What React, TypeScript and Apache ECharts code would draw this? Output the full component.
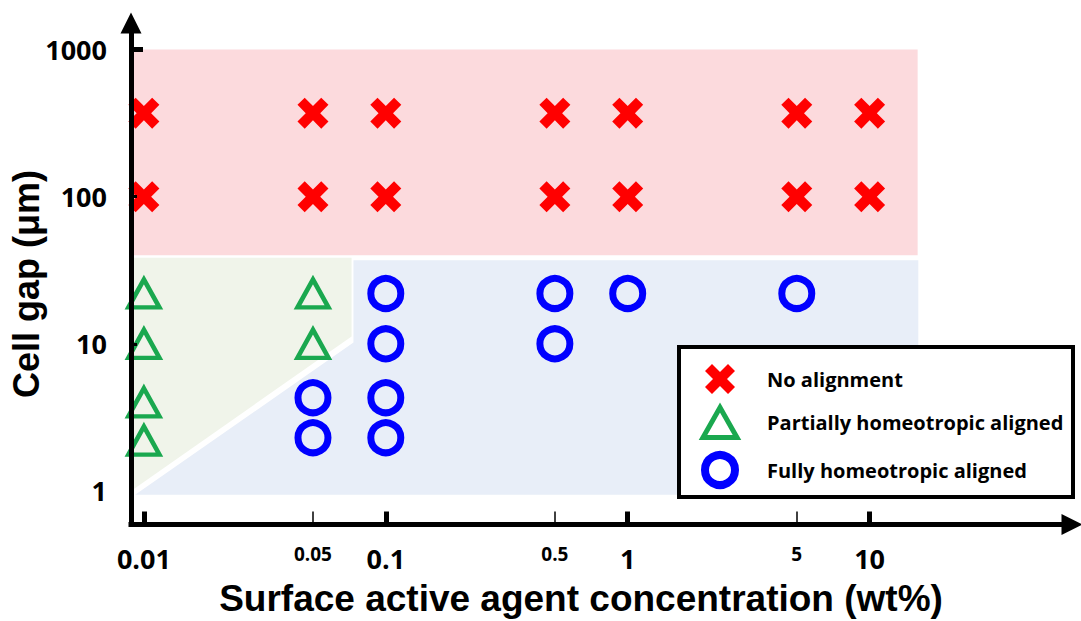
import { useEffect, useRef } from 'react';
import * as echarts from 'echarts';

// ---- Data ----
const X_MAJOR_TICKS = [0.01, 0.1, 1, 10];
const X_MINOR_TICKS = [0.05, 0.5, 5];
const Y_LABELS = [1, 10, 100, 1000];
const Y_MAJOR_TICKS = [1000];
const Y_MINOR_TICKS = [100, 10];

const noAlignment: [number, number][] = [
  [0.01, 370], [0.05, 370], [0.1, 370], [0.5, 370], [1, 370], [5, 370], [10, 370],
  [0.01, 100], [0.05, 100], [0.1, 100], [0.5, 100], [1, 100], [5, 100], [10, 100],
];
const partiallyAligned: [number, number][] = [
  [0.01, 22], [0.01, 10], [0.01, 4], [0.01, 2.2],
  [0.05, 22], [0.05, 10],
];
const fullyAligned: [number, number][] = [
  [0.05, 4.3], [0.05, 2.3],
  [0.1, 22], [0.1, 10], [0.1, 4.3], [0.1, 2.3],
  [0.5, 22], [0.5, 10],
  [1, 22],
  [5, 22],
];

// Shaded regions (data coordinates: concentration, cell gap)
const noAlignRegion: [number, number][] = [[0.009, 40], [15.8, 40], [15.8, 1000], [0.009, 1000]];
const partialRegion: [number, number][] = [[0.009, 38.5], [0.0722, 38.5], [0.0722, 11.2], [0.009, 1.02]];
const fullRegion: [number, number][] = [[0.0735, 37], [15.9, 37], [15.9, 0.94], [0.0092, 0.94], [0.0735, 10.2]];
const regions = [noAlignRegion, partialRegion, fullRegion];

const seriesNames = ['No alignment', 'Partially homeotropic aligned', 'Fully homeotropic aligned'];

// ---- Styles ----
const RED = '#ff0000';
const GREEN = '#1aa84f';
const BLUE = '#0000ff';
const regionColors = ['#fcdadd', '#f0f4ea', '#e8eef8'];
const X_MIN = 0.008845;
const X_MAX = 68.66;
const Y_MIN = 0.5909;
const Y_MAX = 1517;
const X_PATH = 'path://M0,7 L7,0 L15,8 L23,0 L30,7 L22,15 L30,23 L23,30 L15,22 L7,30 L0,23 L8,15 Z';
const TRI_PATH = 'path://M17,0 L34,30 L0,30 Z';
const LABEL_FONT = 'Open Sans';
const TITLE_FONT = 'Liberation Sans';

const fmt = (v: number) => String(Number(Number(v).toPrecision(3)));

export default function App() {
  const ref = useRef<HTMLDivElement>(null);

  useEffect(() => {
    if (!ref.current) return;
    const chart = echarts.init(ref.current, undefined, { renderer: 'svg' });

    const axisLineStyle = { color: '#000', width: 5, cap: 'square' };

    const option: any = {
      animation: false,
      backgroundColor: '#fff',
      grid: { left: 131, top: 23, width: 941, height: 501.5, containLabel: false },
      xAxis: [
        {
          type: 'log', min: X_MIN, max: X_MAX, position: 'bottom', z: 4,
          axisLine: { show: true, onZero: false, symbol: ['none', 'triangle'], symbolSize: [21, 21], lineStyle: axisLineStyle },
          axisTick: { show: true, inside: true, length: 13, customValues: X_MAJOR_TICKS, lineStyle: { color: '#000', width: 5 } },
          axisLabel: {
            show: true, customValues: X_MAJOR_TICKS, margin: 20, formatter: fmt,
            fontFamily: LABEL_FONT, fontWeight: 'bold', fontSize: 27, color: '#000',
          },
          splitLine: { show: false }, minorTick: { show: false }, minorSplitLine: { show: false },
        },
        {
          type: 'log', min: X_MIN, max: X_MAX, position: 'bottom', z: 4,
          axisLine: { show: false, onZero: false },
          axisTick: { show: true, inside: true, length: 13, customValues: X_MINOR_TICKS, lineStyle: { color: '#000', width: 1.5 } },
          axisLabel: {
            show: true, customValues: X_MINOR_TICKS, margin: 20, formatter: fmt,
            fontFamily: LABEL_FONT, fontWeight: 'bold', fontSize: 19, color: '#000',
          },
          splitLine: { show: false }, minorTick: { show: false }, minorSplitLine: { show: false },
        },
      ],
      yAxis: [
        {
          type: 'log', min: Y_MIN, max: Y_MAX, position: 'left', z: 4,
          axisLine: { show: true, onZero: false, symbol: ['none', 'triangle'], symbolSize: [21, 21], lineStyle: axisLineStyle },
          axisTick: { show: true, inside: true, length: 12, customValues: Y_MAJOR_TICKS, lineStyle: { color: '#000', width: 5 } },
          axisLabel: {
            show: true, customValues: Y_LABELS, margin: 24, formatter: fmt,
            fontFamily: LABEL_FONT, fontWeight: 'bold', fontSize: 27, color: '#000',
          },
          splitLine: { show: false }, minorTick: { show: false }, minorSplitLine: { show: false },
        },
        {
          type: 'log', min: Y_MIN, max: Y_MAX, position: 'left', z: 4,
          axisLine: { show: false, onZero: false },
          axisTick: { show: true, inside: true, length: 6, customValues: Y_MINOR_TICKS, lineStyle: { color: '#000', width: 3 } },
          axisLabel: { show: false },
          splitLine: { show: false }, minorTick: { show: false }, minorSplitLine: { show: false },
        },
      ],
      legend: {
        left: 700.5, top: 364, orient: 'vertical', itemWidth: 84, itemHeight: 30, itemGap: 11,
        padding: 0, selectedMode: false, z: 10,
        textStyle: { fontFamily: LABEL_FONT, fontWeight: 'bold', fontSize: 20, color: '#000' },
        data: [
          { name: seriesNames[0], icon: X_PATH, itemStyle: { color: RED, borderWidth: 0, opacity: 1 } },
          { name: seriesNames[1], icon: TRI_PATH, itemStyle: { color: 'rgba(0,0,0,0)', borderColor: GREEN, borderWidth: 5, opacity: 1 } },
          { name: seriesNames[2], icon: 'circle', itemStyle: { color: 'rgba(0,0,0,0)', borderColor: BLUE, borderWidth: 8, opacity: 1 } },
        ],
      },
      graphic: [
        {
          type: 'rect', z: 5,
          shape: { x: 679, y: 347, width: 394, height: 150 },
          style: { fill: '#fff', stroke: '#000', lineWidth: 4 },
        },
        {
          type: 'text', x: 581, y: 598, z: 5,
          style: {
            text: 'Surface active agent concentration (wt%)', textAlign: 'center', textVerticalAlign: 'middle',
            fontFamily: TITLE_FONT, fontWeight: 'bold', fontSize: 37, fill: '#000',
          },
        },
        {
          type: 'text', x: 26, y: 284, rotation: Math.PI / 2, z: 5,
          style: {
            text: 'Cell gap (μm)', textAlign: 'center', textVerticalAlign: 'middle',
            fontFamily: TITLE_FONT, fontWeight: 'bold', fontSize: 36, fill: '#000',
          },
        },
      ],
      series: [
        {
          type: 'custom', name: 'regions', coordinateSystem: 'cartesian2d', xAxisIndex: 0, yAxisIndex: 0,
          silent: true, clip: false, z: 1,
          data: regions.map((r) => [r[0][0], r[0][1]]),
          encode: { x: 0, y: 1 },
          renderItem: (params: any, api: any) => {
            const pts = regions[params.dataIndex].map((p) => api.coord(p));
            return { type: 'polygon', shape: { points: pts }, style: { fill: regionColors[params.dataIndex] } };
          },
        },
        {
          type: 'scatter', name: seriesNames[0], data: noAlignment, xAxisIndex: 0, yAxisIndex: 0, z: 3,
          symbol: X_PATH, symbolSize: 31, itemStyle: { color: RED, opacity: 1 }, emphasis: { disabled: true }, clip: false,
        },
        {
          type: 'scatter', name: seriesNames[1], data: partiallyAligned, xAxisIndex: 0, yAxisIndex: 0, z: 3,
          symbol: 'triangle', symbolSize: [31, 28],
          itemStyle: { color: 'rgba(0,0,0,0)', borderColor: GREEN, borderWidth: 4.5, opacity: 1 },
          emphasis: { disabled: true }, clip: false,
        },
        {
          type: 'scatter', name: seriesNames[2], data: fullyAligned, xAxisIndex: 0, yAxisIndex: 0, z: 3,
          symbol: 'circle', symbolSize: 30,
          itemStyle: { color: 'rgba(0,0,0,0)', borderColor: BLUE, borderWidth: 7, opacity: 1 },
          emphasis: { disabled: true }, clip: false,
        },
      ],
    };

    chart.setOption(option);
    return () => chart.dispose();
  }, []);

  return (
    <div
      ref={ref}
      style={{ position: 'absolute', left: 0, top: 0, width: 1081, height: 621, background: '#fff' }}
    />
  );
}
